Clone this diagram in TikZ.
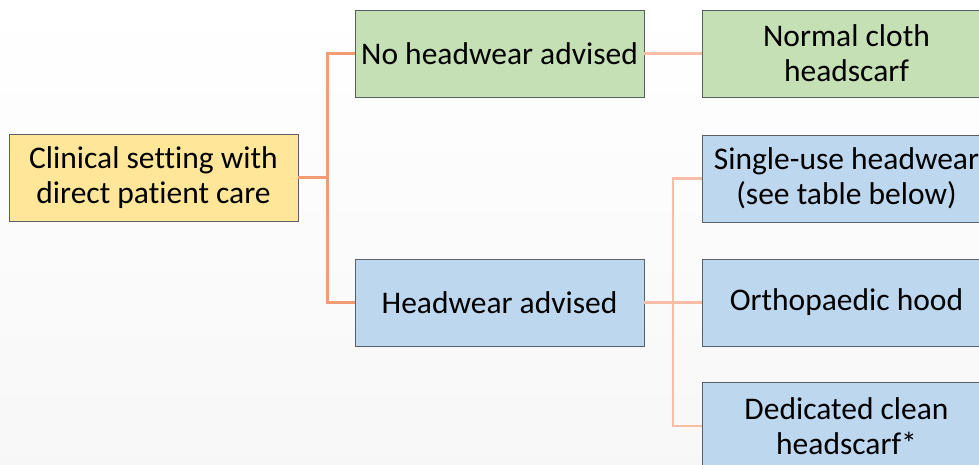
\documentclass[tikz,border=0pt]{standalone}
\usepackage{fontspec}
\setmainfont{Carlito}[Ligatures=NoCommon]
\definecolor{rootfill}{HTML}{FFE699}
\definecolor{greenfill}{HTML}{C5E0B4}
\definecolor{bluefill}{HTML}{BDD7EE}
\definecolor{boxline}{HTML}{5A5F66}
\definecolor{linkdark}{HTML}{F29B74}
\definecolor{linklight}{HTML}{F8BDA5}
\begin{document}
\begin{tikzpicture}[x=1pt,y=-1pt,
    box/.style={draw=boxline, line width=0.9pt, minimum width=289pt, minimum height=87pt,
        align=center, inner sep=2pt, font=\fontsize{31.5}{35}\selectfont},
    rootbox/.style={box, fill=rootfill},
    greenbox/.style={box, fill=greenfill},
    bluebox/.style={box, fill=bluefill},
    link/.style={draw=linkdark, line width=3pt},
    sublink/.style={draw=linklight, line width=2.4pt}]
        \useasboundingbox (0,0) rectangle (979,465);
        \clip (0,0) rectangle (979,465);
        \shade[top color=white, bottom color=black!3] (0,0) rectangle (979,465);

        \node[rootbox] (setting) at (153.5,178) {Clinical setting with\\direct patient care};
        \node[greenbox] (nohead) at (499.5,53.5) {No headwear advised};
        \node[bluebox] (head) at (499.5,302.5) {Headwear advised};
        \node[greenbox] (cloth) at (846.5,53.5) {Normal cloth\\headscarf};
        \node[bluebox] (single) at (846.5,178.5) {Single-use headwear\\(see table below)};
        \node[bluebox] (hood) at (846.5,302.5) {Orthopaedic hood};
        \node[bluebox] (scarf) at (846.5,426) {Dedicated clean\\headscarf*};

        \coordinate (j1) at (327,178);
        \coordinate (j2) at (673,302.5);

        \path[link] (setting.east) -- (j1) |- (nohead.west);
        \path[link] (j1) |- (head.west);
        \path[sublink] (nohead.east) -- (cloth.west);
        \path[sublink] (head.east) -- (j2) |- (single.west);
        \path[sublink] (j2) -- (hood.west);
        \path[sublink] (j2) |- (scarf.west);
\end{tikzpicture}
\end{document}
